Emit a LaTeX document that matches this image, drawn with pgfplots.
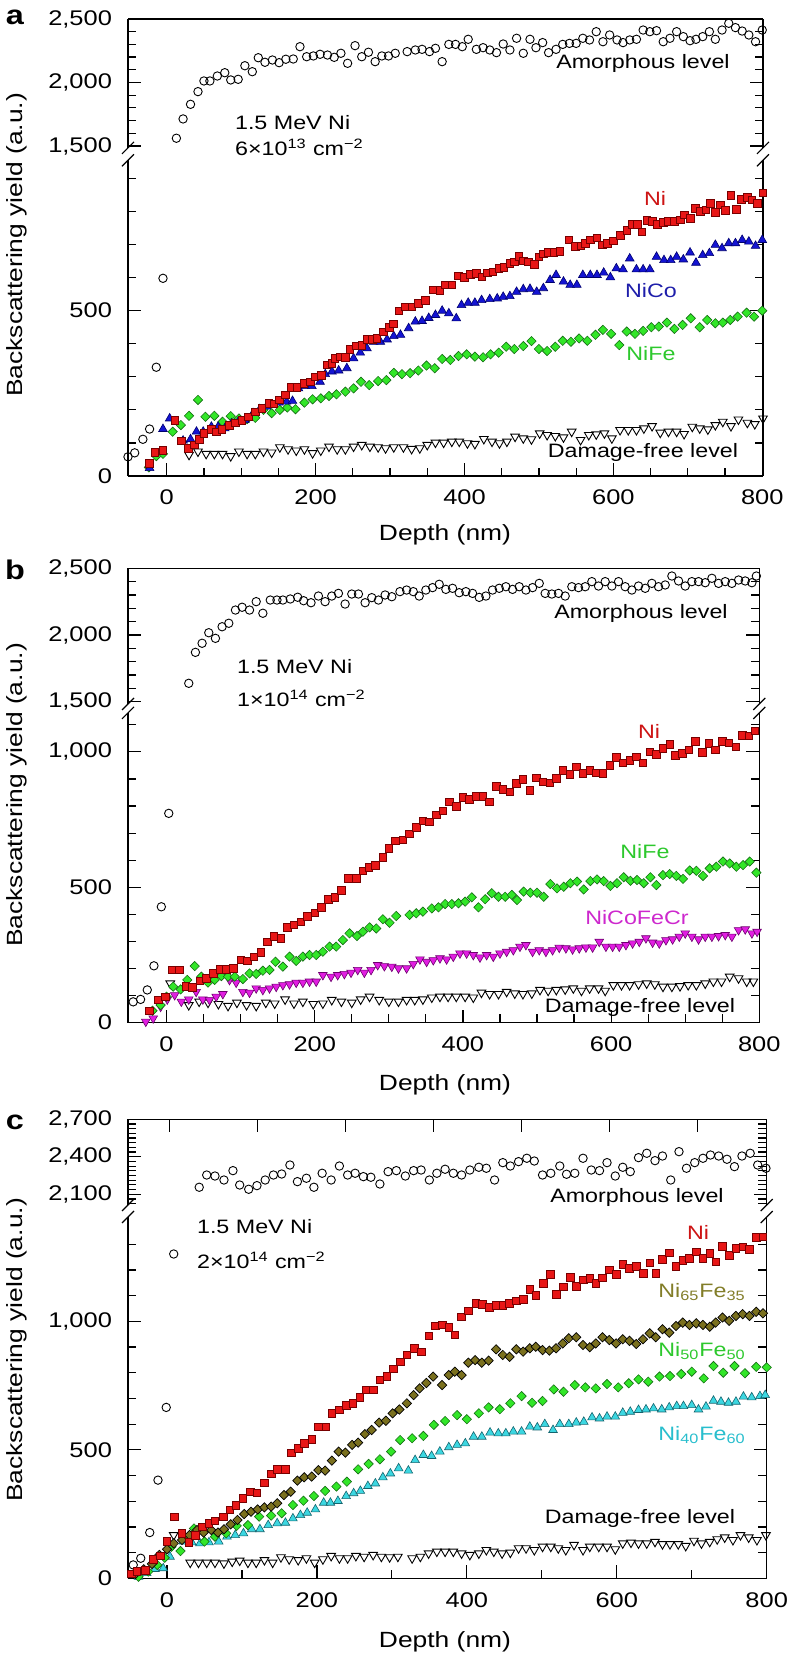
\documentclass[border=0pt]{standalone}
\usepackage{fontspec}
\setmainfont{Liberation Sans}[FakeStretch=1.2]
\usepackage{pgfplots}
\pgfplotsset{compat=1.18}
\definecolor{niR}{RGB}{232,22,22}
\definecolor{niRd}{RGB}{120,0,0}
\definecolor{niT}{RGB}{205,20,20}
\definecolor{nicoB}{RGB}{20,20,210}
\definecolor{nicoBd}{RGB}{0,0,110}
\definecolor{nicoT}{RGB}{30,30,170}
\definecolor{nifeG}{RGB}{50,230,40}
\definecolor{nifeGd}{RGB}{20,110,20}
\definecolor{nifeT}{RGB}{45,200,45}
\definecolor{heaM}{RGB}{225,30,225}
\definecolor{heaMd}{RGB}{110,0,110}
\definecolor{heaT}{RGB}{205,40,205}
\definecolor{olF}{RGB}{122,112,30}
\definecolor{olT}{RGB}{130,125,40}
\definecolor{cyF}{RGB}{60,215,225}
\definecolor{cyD}{RGB}{20,100,110}
\definecolor{cyT}{RGB}{40,190,205}
\newcommand{\ann}{\fontsize{9.7}{11.5}\selectfont}
\newcommand{\alab}{\fontsize{11}{13}\selectfont}
\pgfplotsset{
  common/.style={scale only axis, xmin=-52, tick align=inside,
    major tick length=6.5pt, minor tick length=4.2pt,
    tick style={black, line width=0.6pt},
    axis line style={line width=0.6pt},
    tick label style={font=\fontsize{10.6}{12}\selectfont},
    /pgf/number format/assume math mode=true,
    /pgf/number format/1000 sep={,},
    clip=false,
    yticklabel style={xshift=-4.5pt},
    xticklabel style={yshift=-3.5pt}},
  low/.style={common, axis x line*=bottom, axis y line*=box, ymin=0},
  up/.style={common, axis x line*=top, axis y line*=box, xticklabels={}},
  amo/.style={only marks, mark=o, mark size=2.1pt, mark options={line width=0.45pt, black}},
  dfree/.style={only marks, mark=triangle, mark size=2.5pt, mark options={rotate=180, line width=0.45pt, black}},
  ni/.style={only marks, mark=square*, mark size=1.9pt, mark options={fill=niR, draw=niRd, line width=0.3pt}},
  nico/.style={only marks, mark=triangle*, mark size=2.5pt, mark options={fill=nicoB, draw=nicoBd, line width=0.3pt}},
  nife/.style={only marks, mark=square*, mark size=1.65pt, mark options={rotate=45, fill=nifeG, draw=nifeGd, line width=0.3pt}},
  hea/.style={only marks, mark=triangle*, mark size=2.5pt, mark options={rotate=180, fill=heaM, draw=heaMd, line width=0.3pt}},
  oli/.style={only marks, mark=square*, mark size=1.65pt, mark options={rotate=45, fill=olF, draw=black, line width=0.35pt}},
  cya/.style={only marks, mark=triangle*, mark size=2.5pt, mark options={fill=cyF, draw=cyD, line width=0.3pt}},
}
\newcommand{\brklow}{%
  \draw[line width=0.6pt] ([shift={(-3pt,-3pt)}]rel axis cs:0,1) -- ([shift={(3pt,3pt)}]rel axis cs:0,1);
  \draw[line width=0.6pt] ([shift={(-3pt,-3pt)}]rel axis cs:1,1) -- ([shift={(3pt,3pt)}]rel axis cs:1,1);}
\newcommand{\brkup}{%
  \draw[line width=0.6pt] ([shift={(-3pt,-3pt)}]rel axis cs:0,0) -- ([shift={(3pt,3pt)}]rel axis cs:0,0);
  \draw[line width=0.6pt] ([shift={(-3pt,-3pt)}]rel axis cs:1,0) -- ([shift={(3pt,3pt)}]rel axis cs:1,0);}
\begin{document}
\begin{tikzpicture}
\path[use as bounding box] (0pt,0pt) rectangle (394pt,827.5pt);
% ================= PANEL A =================
\begin{axis}[low, at={(64pt,589.5pt)}, anchor=south west, width=317.5pt, height=157.85pt,
  xmax=801, ymax=955, xtick={0,200,...,800},
  minor xtick={50,100,150,250,300,350,450,500,550,650,700,750},
  ytick={0,500}, minor ytick={100,200,300,400,600,700,800,900}]
\addplot[amo] coordinates {(-52,58)(-43,70)(-32,111)(-23,142)(-14,329)(-5,598)};
\addplot[dfree] coordinates {(30,64)(42,74)(53,67)(64,67)(75,67)(86,60)(97,74)(108,67)(119,67)(130,74)(141,71)(152,87)(163,81)(174,77)(185,81)(196,69)(207,77)(218,89)(229,81)(240,81)(251,89)(262,94)(273,89)(284,87)(294,84)(305,87)(318,87)(329,82)(340,84)(350,94)(361,101)(372,101)(383,104)(393,104)(404,99)(414,97)(426,112)(437,104)(447,99)(457,104)(468,119)(479,114)(490,111)(501,129)(511,124)(522,121)(533,117)(544,134)(556,109)(567,124)(577,126)(588,129)(598,114)(609,139)(620,139)(631,139)(641,144)(652,151)(663,131)(674,134)(685,134)(695,127)(706,149)(716,144)(727,141)(737,154)(747,164)(758,151)(768,171)(780,161)(790,157)(801,174)};
\addplot[nife] coordinates {(-24,26)(-14,60)(-5,67)(8,134)(19,154)(30,182)(42,230)(52,179)(64,182)(75,164)(86,181)(97,174)(108,172)(119,176)(130,200)(141,190)(152,200)(162,207)(173,202)(185,222)(196,232)(207,235)(218,242)(228,247)(240,255)(251,265)(261,285)(272,275)(284,287)(295,290)(305,312)(316,308)(327,311)(338,319)(349,334)(360,326)(370,354)(381,351)(392,363)(403,368)(414,361)(425,359)(435,368)(446,373)(456,391)(467,384)(479,393)(490,408)(500,384)(511,378)(522,391)(532,409)(543,406)(554,416)(565,409)(576,427)(586,442)(597,430)(608,396)(618,437)(629,430)(640,439)(651,450)(661,452)(672,464)(682,445)(693,457)(704,477)(716,450)(726,472)(737,462)(747,464)(757,472)(767,482)(779,494)(789,482)(800,500)};
\addplot[nico] coordinates {(-23,24)(-5,142)(4,174)(22,107)(32,111)(40,134)(49,134)(60,149)(69,149)(78,144)(87,159)(96,164)(105,169)(116,190)(125,202)(134,210)(142,215)(151,222)(161,225)(169,227)(177,265)(186,272)(195,272)(206,285)(213,308)(222,316)(231,319)(242,326)(251,356)(260,373)(269,386)(278,406)(287,406)(296,413)(305,423)(314,427)(325,447)(334,467)(343,469)(352,478)(361,487)(370,500)(379,492)(389,477)(396,517)(405,524)(414,524)(423,532)(434,535)(444,537)(452,542)(461,544)(470,557)(479,565)(488,566)(497,557)(506,568)(515,593)(523,608)(533,588)(542,578)(551,578)(559,608)(569,608)(578,608)(587,615)(596,601)(604,628)(613,625)(622,658)(631,625)(640,625)(649,625)(658,663)(668,653)(677,653)(685,663)(694,655)(703,676)(711,645)(720,668)(729,674)(737,699)(746,689)(755,704)(764,704)(773,714)(782,709)(791,696)(800,714)};
\addplot[ni] coordinates {(-23,38)(-16,72)(-5,78)(11,169)(20,107)(29,84)(37,94)(44,111)(50,129)(60,141)(67,134)(74,142)(84,154)(92,161)(101,169)(110,179)(119,194)(128,205)(137,220)(144,218)(151,230)(159,245)(167,268)(175,268)(184,280)(193,285)(199,300)(208,305)(215,336)(222,341)(226,356)(233,361)(240,359)(246,383)(254,394)(262,396)(269,413)(276,413)(282,416)(291,436)(299,450)(304,460)(312,500)(320,512)(329,512)(338,522)(347,532)(358,563)(367,561)(374,578)(383,578)(392,605)(400,601)(408,611)(416,613)(423,603)(431,615)(438,618)(446,628)(453,631)(461,643)(467,648)(473,665)(479,651)(486,648)(494,640)(500,663)(506,672)(513,676)(520,676)(528,679)(540,714)(549,694)(556,696)(562,704)(569,714)(578,721)(585,699)(592,704)(600,712)(609,729)(618,744)(625,762)(632,762)(638,739)(645,773)(652,770)(659,762)(667,767)(674,770)(682,770)(690,775)(695,790)(703,780)(710,810)(717,800)(724,805)(730,825)(737,797)(744,820)(750,803)(758,850)(765,807)(772,837)(780,843)(786,835)(793,825)(801,857)};
\brklow
\end{axis}
\begin{axis}[up, at={(64pt,753.55pt)}, anchor=south west, width=317.5pt, height=64.45pt,
  xmax=801, ymin=1485, ymax=2500, xtick=\empty, minor xtick={0,50,...,750},
  ytick={1500,2000,2500}, minor ytick={1600,1700,1800,1900,2100,2200,2300,2400}]
\addplot[amo] coordinates {(13,1561)(22,1713)(32,1828)(42,1928)(50,2012)(58,2012)(68,2051)(78,2077)(86,2020)(96,2025)(105,2132)(115,2085)(123,2195)(132,2159)(142,2177)(151,2156)(160,2183)(170,2185)(179,2282)(188,2203)(197,2209)(206,2222)(216,2216)(225,2198)(234,2230)(243,2151)(253,2290)(262,2203)(271,2238)(280,2164)(289,2209)(298,2209)(307,2230)(323,2243)(334,2256)(343,2261)(353,2243)(361,2269)(370,2164)(379,2300)(388,2300)(397,2282)(405,2340)(416,2261)(425,2274)(434,2256)(443,2235)(452,2303)(461,2256)(470,2348)(479,2230)(488,2340)(496,2274)(505,2314)(513,2235)(523,2261)(532,2300)(541,2308)(550,2308)(559,2348)(568,2335)(577,2400)(586,2321)(595,2374)(605,2335)(613,2314)(622,2335)(631,2340)(640,2413)(649,2400)(658,2408)(667,2321)(676,2348)(685,2400)(694,2361)(703,2329)(711,2340)(720,2361)(729,2400)(737,2340)(746,2413)(755,2466)(764,2432)(773,2405)(782,2374)(791,2321)(800,2413)};
\brkup
\end{axis}
% ================= PANEL B =================
\begin{axis}[low, at={(64pt,316.15pt)}, anchor=south west, width=315.65pt, height=154.9pt,
  xmax=800, ymax=1144, xtick={0,200,...,800},
  minor xtick={50,100,150,250,300,350,450,500,550,650,700,750},
  ytick={0,500,1000}, minor ytick={100,200,300,400,600,700,800,900,1100}]
\addplot[amo] coordinates {(-45,77)(-35,86)(-26,121)(-17,210)(-7,428)(3,773)};
\addplot[dfree] coordinates {(5,145)(30,65)(44,78)(56,74)(70,69)(83,62)(95,74)(108,65)(121,62)(134,74)(146,71)(160,86)(172,71)(184,78)(198,69)(211,71)(223,84)(236,78)(250,74)(262,86)(274,96)(287,84)(300,78)(313,78)(324,84)(335,84)(346,86)(358,93)(369,96)(380,96)(391,96)(403,96)(414,93)(425,111)(436,106)(448,106)(459,114)(470,108)(481,106)(493,108)(504,121)(515,118)(526,121)(538,123)(549,127)(560,118)(571,127)(583,127)(592,118)(603,139)(614,139)(625,139)(637,142)(648,145)(659,142)(670,133)(682,133)(693,135)(704,139)(715,139)(727,145)(738,152)(749,152)(760,170)(772,164)(783,152)(792,152)};
\addplot[hea] coordinates {(-28,4)(-18,16)(-8,59)(1,86)(11,102)(20,78)(30,86)(40,114)(49,86)(58,84)(67,96)(76,106)(85,158)(94,148)(103,114)(112,111)(121,127)(130,121)(139,127)(148,133)(157,139)(166,142)(175,148)(184,148)(193,152)(202,152)(211,176)(222,170)(231,176)(240,180)(249,185)(258,195)(267,185)(276,195)(285,213)(294,209)(304,207)(313,201)(324,201)(333,217)(342,234)(351,225)(360,231)(369,238)(378,234)(387,244)(396,256)(405,256)(414,250)(423,241)(432,250)(441,244)(450,256)(459,262)(468,268)(477,281)(485,287)(494,262)(503,268)(512,262)(521,268)(530,277)(539,275)(548,271)(557,275)(566,278)(575,278)(584,299)(593,281)(602,281)(611,281)(620,287)(629,293)(638,299)(647,312)(656,296)(665,293)(674,305)(683,308)(692,318)(700,330)(709,318)(718,308)(727,318)(736,318)(745,320)(754,324)(763,318)(772,342)(781,345)(790,330)(797,336)};
\addplot[nife] coordinates {(-19,44)(-8,65)(0,96)(9,133)(19,123)(28,158)(38,209)(47,170)(56,148)(65,158)(74,172)(83,170)(92,170)(103,161)(112,182)(121,180)(130,192)(139,195)(147,225)(157,207)(166,244)(175,228)(184,244)(193,250)(202,250)(211,262)(220,281)(229,281)(238,305)(247,330)(257,320)(265,336)(274,352)(283,348)(292,382)(301,369)(310,394)(328,398)(337,404)(346,410)(358,422)(367,426)(376,438)(385,438)(394,441)(403,447)(412,463)(421,426)(430,456)(439,478)(448,465)(457,465)(466,472)(473,453)(482,484)(491,480)(500,480)(509,465)(518,512)(527,496)(536,502)(545,515)(554,521)(563,492)(572,523)(581,529)(590,523)(599,505)(608,515)(617,537)(626,524)(635,527)(644,515)(653,537)(661,508)(670,545)(679,549)(688,542)(697,531)(706,562)(715,561)(724,542)(733,570)(742,576)(751,595)(760,588)(769,576)(778,582)(787,595)(796,554)};
\addplot[ni] coordinates {(-23,44)(-11,84)(-2,96)(8,195)(17,195)(26,135)(35,131)(45,154)(54,165)(63,182)(72,197)(81,197)(90,201)(100,232)(109,229)(118,244)(127,259)(136,299)(145,318)(154,312)(163,352)(172,361)(181,373)(190,392)(200,406)(209,426)(218,456)(227,462)(236,488)(245,533)(256,533)(265,561)(273,574)(282,582)(292,611)(300,644)(309,672)(319,675)(328,697)(337,721)(346,746)(355,742)(364,767)(373,783)(382,816)(391,800)(400,832)(409,825)(418,835)(427,837)(436,816)(445,872)(454,862)(463,853)(472,884)(481,899)(490,859)(499,905)(508,890)(517,886)(526,902)(535,933)(544,918)(553,945)(562,921)(571,931)(580,923)(589,921)(598,951)(607,980)(616,960)(625,970)(634,982)(643,960)(652,1001)(661,992)(670,1013)(679,1029)(687,988)(696,995)(705,1007)(714,1038)(723,998)(732,1031)(741,1007)(750,1038)(759,1034)(768,1019)(777,1062)(786,1059)(794,1078)};
\brklow
\end{axis}
\begin{axis}[up, at={(64pt,475.5pt)}, anchor=south west, width=315.65pt, height=67.85pt,
  xmax=800, ymin=1483, ymax=2500, xtick=\empty, minor xtick={0,50,...,750},
  ytick={1500,2000,2500}, minor ytick={1600,1700,1800,1900,2100,2200,2300,2400}]
\addplot[amo] coordinates {(30,1638)(39,1870)(48,1938)(57,2017)(66,1975)(75,2062)(84,2088)(93,2187)(102,2208)(112,2187)(121,2250)(130,2163)(140,2262)(149,2262)(157,2262)(167,2270)(177,2283)(185,2257)(195,2242)(205,2292)(214,2250)(223,2292)(232,2312)(241,2232)(250,2307)(259,2307)(268,2242)(277,2280)(286,2262)(295,2300)(304,2287)(315,2325)(324,2337)(333,2325)(341,2292)(350,2337)(359,2355)(368,2380)(377,2342)(386,2350)(395,2317)(404,2325)(413,2312)(422,2282)(431,2292)(440,2337)(449,2350)(458,2362)(467,2342)(476,2362)(485,2337)(494,2355)(503,2387)(511,2312)(520,2307)(529,2312)(538,2292)(547,2362)(556,2355)(565,2362)(574,2400)(583,2367)(592,2400)(601,2367)(610,2400)(619,2362)(628,2337)(637,2367)(646,2350)(655,2387)(664,2362)(673,2375)(682,2442)(691,2405)(700,2367)(709,2400)(718,2400)(727,2392)(736,2425)(745,2387)(754,2400)(763,2387)(772,2412)(781,2405)(790,2392)(796,2442)};
\brkup
\end{axis}
% ================= PANEL C =================
\begin{axis}[low, at={(64pt,38.35pt)}, anchor=south west, width=319.35pt, height=180.65pt,
  xmax=800, ymax=1406, xtick={0,200,...,800}, minor xtick={100,300,500,700},
  ytick={0,500,1000}, minor ytick={100,200,300,400,600,700,800,900,1100,1200,1300}]
\addplot[amo] coordinates {(-45,52)(-35,78)(-23,178)(-12,382)(-1,665)(9,1262)};
\addplot[dfree] coordinates {(9,168)(31,61)(42,61)(53,61)(64,61)(76,58)(87,65)(97,69)(108,61)(119,61)(130,71)(141,61)(152,82)(163,74)(175,71)(186,78)(197,61)(208,74)(219,87)(230,78)(241,78)(252,87)(263,84)(275,91)(286,84)(297,82)(308,84)(327,78)(338,84)(349,97)(360,104)(371,104)(382,104)(393,97)(404,91)(416,97)(426,110)(436,104)(447,97)(458,100)(469,117)(479,117)(490,110)(501,123)(512,123)(522,117)(532,110)(543,130)(555,110)(564,123)(576,123)(587,123)(598,113)(608,136)(619,139)(629,136)(640,136)(651,142)(661,133)(671,133)(682,133)(692,126)(703,146)(713,136)(724,142)(734,152)(744,159)(755,149)(765,168)(776,159)(787,149)(799,168)};
\addplot[cya] coordinates {(-38,6)(-27,20)(-16,36)(-5,39)(4,84)(22,143)(33,140)(44,136)(56,140)(69,143)(80,162)(91,168)(102,175)(113,191)(124,191)(135,207)(147,214)(158,216)(168,233)(178,246)(187,255)(198,268)(209,294)(218,294)(228,301)(239,320)(249,331)(258,340)(268,359)(278,369)(288,393)(298,408)(309,428)(322,419)(331,460)(342,480)(353,476)(364,493)(376,510)(387,519)(398,525)(409,551)(420,551)(431,567)(442,564)(452,564)(462,571)(473,571)(484,590)(494,587)(504,600)(515,577)(524,600)(536,600)(546,606)(556,609)(567,626)(577,622)(587,629)(598,629)(608,644)(618,648)(629,655)(639,657)(649,661)(660,657)(670,665)(680,670)(689,670)(700,674)(709,657)(719,668)(729,691)(739,687)(749,683)(759,687)(769,707)(780,704)(791,709)(798,713)};
\addplot[nife] coordinates {(-38,6)(-25,26)(-13,52)(-3,80)(6,123)(18,106)(27,150)(36,194)(50,143)(64,162)(79,175)(93,204)(108,207)(123,240)(139,244)(153,253)(168,285)(182,302)(196,320)(211,340)(226,357)(240,376)(255,424)(269,445)(284,463)(299,493)(311,538)(327,545)(342,554)(356,597)(371,612)(387,635)(400,619)(416,642)(429,665)(444,658)(458,681)(473,709)(487,683)(501,690)(516,735)(529,726)(544,752)(558,743)(572,739)(587,756)(602,743)(616,759)(629,774)(642,765)(657,785)(671,787)(686,795)(700,804)(716,778)(729,826)(742,800)(757,826)(771,798)(786,823)(800,821)};
\addplot[oli] coordinates {(-42,17)(-31,35)(-20,56)(-10,91)(0,113)(9,136)(20,149)(30,168)(40,188)(49,178)(59,188)(68,178)(76,191)(85,210)(94,227)(103,250)(112,259)(121,268)(130,276)(139,279)(147,292)(156,324)(165,337)(174,380)(183,393)(193,396)(202,421)(211,419)(220,458)(229,493)(238,489)(247,519)(255,528)(264,561)(273,577)(283,606)(292,613)(301,642)(310,657)(320,681)(329,713)(337,739)(346,760)(355,785)(367,752)(376,791)(384,804)(393,791)(402,839)(411,849)(420,839)(429,847)(439,891)(448,869)(457,862)(466,891)(475,882)(484,895)(492,901)(501,888)(510,886)(519,895)(528,914)(536,934)(546,938)(555,908)(564,899)(572,914)(581,938)(590,927)(599,914)(608,930)(617,924)(626,912)(635,930)(644,953)(652,938)(661,969)(670,956)(679,982)(688,995)(697,986)(706,992)(715,986)(724,979)(732,995)(741,1015)(750,1002)(759,1021)(768,1028)(777,1021)(786,1037)(795,1031)};
\addplot[ni] coordinates {(-48,17)(-40,28)(-29,32)(-18,74)(-9,87)(0,143)(10,240)(20,175)(29,139)(38,168)(47,201)(56,214)(64,223)(75,240)(84,266)(92,285)(101,311)(111,337)(120,333)(130,372)(139,406)(147,424)(158,424)(166,489)(175,506)(183,525)(193,541)(202,590)(212,590)(220,642)(230,655)(239,674)(248,681)(257,704)(266,733)(275,733)(284,772)(293,787)(302,815)(311,843)(320,869)(330,895)(339,882)(349,943)(358,982)(367,986)(376,977)(384,947)(393,1018)(402,1041)(412,1070)(421,1067)(430,1054)(439,1063)(448,1063)(457,1070)(466,1080)(475,1085)(484,1124)(492,1102)(502,1148)(511,1184)(519,1106)(529,1135)(538,1171)(546,1137)(555,1161)(564,1167)(572,1148)(581,1170)(590,1200)(599,1184)(608,1223)(617,1206)(626,1213)(635,1187)(644,1228)(652,1187)(661,1241)(670,1267)(679,1213)(688,1238)(697,1245)(706,1271)(715,1245)(724,1264)(732,1232)(741,1293)(750,1258)(759,1284)(768,1290)(777,1280)(786,1327)(795,1329)};
\brklow
\end{axis}
\begin{axis}[up, at={(64pt,225pt)}, anchor=south west, width=319.35pt, height=42.85pt,
  xmax=800, ymin=2014, ymax=2700, xtick={3,120.5,238,355.5,473,590.5,708},
  ytick={2100,2400,2700},
  minor ytick={2025,2062.5,2137.5,2175,2212.5,2250,2287.5,2325,2362.5,2437.5,2475,2512.5,2550,2587.5,2625,2662.5}]
\addplot[amo] coordinates {(43,2156)(53,2254)(64,2246)(76,2214)(88,2289)(97,2174)(109,2140)(120,2169)(131,2214)(142,2254)(153,2262)(164,2334)(174,2201)(186,2228)(196,2156)(207,2268)(219,2214)(230,2326)(241,2254)(251,2268)(262,2241)(272,2236)(284,2182)(295,2281)(306,2289)(318,2246)(329,2289)(339,2294)(350,2214)(360,2268)(371,2300)(382,2268)(393,2254)(404,2294)(416,2316)(426,2308)(437,2214)(448,2353)(458,2326)(469,2361)(480,2388)(490,2366)(501,2254)(512,2268)(524,2326)(533,2260)(544,2268)(555,2388)(566,2294)(577,2289)(587,2353)(598,2246)(608,2316)(618,2281)(629,2393)(640,2428)(651,2369)(661,2406)(672,2214)(683,2441)(693,2308)(704,2353)(715,2388)(725,2414)(736,2406)(747,2380)(757,2321)(767,2406)(778,2428)(788,2334)(799,2308)};
\brkup
\end{axis}
% ================= TEXT =================
\begin{scope}[x=0.5pt, y=-0.5pt, shift={(0pt,827.5pt)}]
\node[font=\fontsize{13.5}{15}\selectfont\bfseries] at (15,17) {a};
\node[font=\fontsize{13.5}{15}\selectfont\bfseries] at (15,570) {b};
\node[font=\fontsize{13.5}{15}\selectfont\bfseries] at (15,1122) {c};
\node[font=\alab, rotate=90] at (17,245) {Backscattering yield (a.u.)};
\node[font=\alab, rotate=90] at (17,795) {Backscattering yield (a.u.)};
\node[font=\alab, rotate=90] at (17,1350) {Backscattering yield (a.u.)};
\node[font=\alab] at (445,535) {Depth (nm)};
\node[font=\alab] at (445,1085) {Depth (nm)};
\node[font=\alab] at (445,1642) {Depth (nm)};
% panel a
\node[font=\ann] at (643,64) {Amorphous level};
\node[font=\ann, anchor=west] at (228,123) {1.5 MeV Ni};
\node[font=\ann, anchor=west] at (228,147) {6×10\textsuperscript{13} cm\textsuperscript{−2}};
\node[font=\ann, text=niT] at (655,198) {Ni};
\node[font=\ann, text=nicoT] at (651,291) {NiCo};
\node[font=\ann, text=nifeT] at (651,354) {NiFe};
\node[font=\ann] at (643,452) {Damage-free level};
% panel b
\node[font=\ann] at (641,613) {Amorphous level};
\node[font=\ann, anchor=west] at (230,667) {1.5 MeV Ni};
\node[font=\ann, anchor=west] at (230,698) {1×10\textsuperscript{14} cm\textsuperscript{−2}};
\node[font=\ann, text=niT] at (649,731) {Ni};
\node[font=\ann, text=nifeT] at (645,852) {NiFe};
\node[font=\ann, text=heaT] at (637,918) {NiCoFeCr};
\node[font=\ann] at (640,1007) {Damage-free level};
% panel c
\node[font=\ann] at (637,1197) {Amorphous level};
\node[font=\ann, anchor=west] at (190,1227) {1.5 MeV Ni};
\node[font=\ann, anchor=west] at (190,1260) {2×10\textsuperscript{14} cm\textsuperscript{−2}};
\node[font=\ann, text=niT] at (698,1232) {Ni};
\node[font=\ann, text=olT] at (702,1292) {Ni\textsubscript{65}Fe\textsubscript{35}};
\node[font=\ann, text=nifeT] at (702,1351) {Ni\textsubscript{50}Fe\textsubscript{50}};
\node[font=\ann, text=cyT] at (702,1435) {Ni\textsubscript{40}Fe\textsubscript{60}};
\node[font=\ann] at (640,1518) {Damage-free level};
\end{scope}
\end{tikzpicture}
\end{document}
